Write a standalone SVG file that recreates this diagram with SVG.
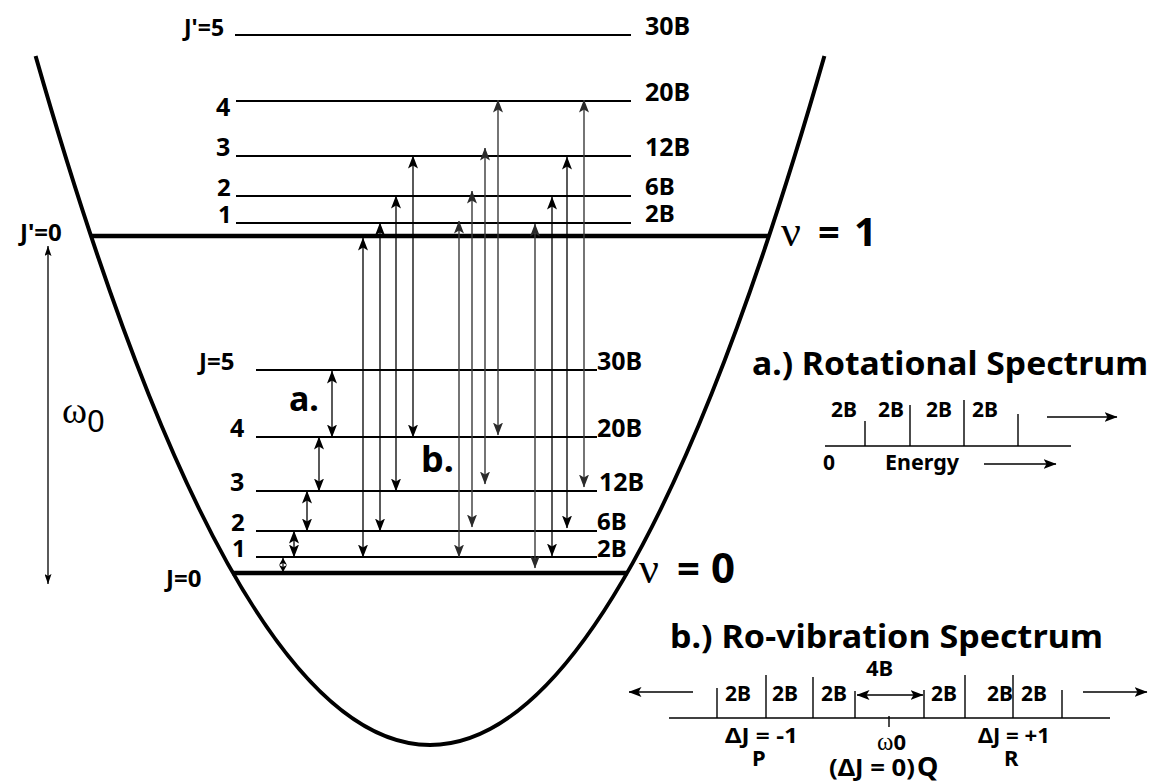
<svg xmlns="http://www.w3.org/2000/svg" width="1157" height="784" viewBox="0 0 1157 784">
<style>
.lv{stroke:#000;stroke-width:2;fill:none}
.thick{stroke:#000;stroke-width:4.5;fill:none}
.ar{stroke:#000;stroke-width:1.3;fill:none;marker-start:url(#ah);marker-end:url(#ah)}
.arg{stroke:#3a3a3a;stroke-width:1.4;fill:none;marker-start:url(#ahg);marker-end:url(#ahg)}
.ars{stroke:#000;stroke-width:1.2;fill:none;marker-start:url(#ahs);marker-end:url(#ahs)}
.arw{stroke:#000;stroke-width:1.3;fill:none;marker-start:url(#aht);marker-end:url(#aht)}
.ar1{stroke:#000;stroke-width:1.3;fill:none;marker-end:url(#ah)}
.ar2{stroke:#000;stroke-width:1.3;fill:none;marker-start:url(#ah);marker-end:url(#ah)}
.tk{stroke:#000;stroke-width:1.4;fill:none}
.b{font-family:"Noto Sans","DejaVu Sans",sans-serif;font-weight:bold;fill:#000}
.s{font-family:"Liberation Serif","DejaVu Serif",serif;font-weight:normal;fill:#000}
.r{font-family:"Noto Sans","DejaVu Sans",sans-serif;font-weight:normal;fill:#000}
</style>
<defs>
<marker id="ah" viewBox="0 0 13 10" refX="12.5" refY="5" markerWidth="13" markerHeight="10" orient="auto-start-reverse" markerUnits="userSpaceOnUse"><path d="M0,0 L13,5 L0,10 L3,5 Z" fill="#000"/></marker>
<marker id="ahg" viewBox="0 0 13 10" refX="12.5" refY="5" markerWidth="13" markerHeight="10" orient="auto-start-reverse" markerUnits="userSpaceOnUse"><path d="M0,0 L13,5 L0,10 L3,5 Z" fill="#2a2a2a"/></marker>
<marker id="ahs" viewBox="0 0 7 8" refX="7" refY="4" markerWidth="7" markerHeight="8" orient="auto-start-reverse" markerUnits="userSpaceOnUse"><path d="M0,0 L7,4 L0,8 L2,4 Z" fill="#000"/></marker>
<marker id="aht" viewBox="0 0 10 7" refX="10" refY="3.5" markerWidth="10" markerHeight="7" orient="auto-start-reverse" markerUnits="userSpaceOnUse"><path d="M0,0 L10,3.5 L0,7 L2,3.5 Z" fill="#000"/></marker>
</defs>
<rect width="1157" height="784" fill="#fff"/>

<g id="potential">
<path d="M35.6,56 Q430,1434 824.4,56" fill="none" stroke="#000" stroke-width="4"/>
</g>

<g id="upper-levels">
<g id="Jp5"><line class="lv" x1="235" y1="35" x2="631" y2="35"/><text class="b" x="184" y="36" font-size="23">J'=5</text><text class="b" x="645" y="35" font-size="25">30B</text></g>
<g id="Jp4"><line class="lv" x1="236" y1="101" x2="631" y2="101"/><text class="b" x="216" y="116" font-size="25">4</text><text class="b" x="645" y="101" font-size="25">20B</text></g>
<g id="Jp3"><line class="lv" x1="236" y1="156" x2="631" y2="156"/><text class="b" x="216" y="156" font-size="25">3</text><text class="b" x="645" y="156" font-size="25">12B</text></g>
<g id="Jp2"><line class="lv" x1="236" y1="196" x2="631" y2="196"/><text class="b" x="217" y="196" font-size="24">2</text><text class="b" x="645" y="195" font-size="24">6B</text></g>
<g id="Jp1"><line class="lv" x1="236" y1="223" x2="631" y2="223"/><text class="b" x="218" y="223" font-size="24">1</text><text class="b" x="645" y="222" font-size="24">2B</text></g>
<g id="Jp0"><line class="thick" x1="91" y1="236" x2="769" y2="236"/><text class="b" x="20" y="241" font-size="24">J'=0</text>
<text x="781" y="246"><tspan class="s" font-size="44">ν</tspan><tspan class="b" x="818" font-size="38">=</tspan><tspan class="b" x="854" font-size="40">1</tspan></text></g>
</g>

<g id="lower-levels">
<g id="J5"><line class="lv" x1="256" y1="370" x2="597" y2="370"/><text class="b" x="199" y="370" font-size="24">J=5</text><text class="b" x="597" y="370" font-size="25">30B</text></g>
<g id="J4"><line class="lv" x1="256" y1="437" x2="597" y2="437"/><text class="b" x="230" y="437" font-size="25">4</text><text class="b" x="597" y="437" font-size="25">20B</text></g>
<g id="J3"><line class="lv" x1="256" y1="491" x2="597" y2="491"/><text class="b" x="230" y="491" font-size="25">3</text><text class="b" x="599" y="491" font-size="25">12B</text></g>
<g id="J2"><line class="lv" x1="256" y1="531" x2="597" y2="531"/><text class="b" x="231" y="531" font-size="24">2</text><text class="b" x="597" y="530" font-size="24">6B</text></g>
<g id="J1"><line class="lv" x1="256" y1="557" x2="597" y2="557"/><text class="b" x="232" y="557" font-size="24">1</text><text class="b" x="597" y="557" font-size="24">2B</text></g>
<g id="J0"><line class="thick" x1="232" y1="573" x2="628" y2="573"/><text class="b" x="166" y="587" font-size="24">J=0</text>
<text x="639" y="583"><tspan class="s" font-size="44">ν</tspan><tspan class="b" x="677" font-size="40">=</tspan><tspan class="b" x="711" font-size="42">0</tspan></text></g>
</g>

<g id="connectors">
<path class="arw" d="M48,246 V584"/>
<path class="ar" d="M332,371 V437"/>
<path class="ar" d="M319,437 V491"/>
<path class="ar" d="M307,491 V531"/>
<path class="ar" d="M294,531 V557"/>
<path class="ars" d="M283,558 V572"/>
<path class="ar" d="M363,557 V238"/>
<path class="ar" d="M380,531 V223"/>
<path class="ar" d="M396,491 V196"/>
<path class="ar" d="M413,437 V156"/>
<path class="arg" d="M459,557 V221"/>
<path class="arg" d="M472,527 V191"/>
<path class="arg" d="M485,484 V148"/>
<path class="arg" d="M498,435 V100"/>
<path class="arg" d="M535,568 V224"/>
<path class="ar" d="M552,556 V197"/>
<path class="ar" d="M567,528 V157"/>
<path class="arg" d="M584,487 V100"/>
</g>

<g id="labels">
<text class="b" x="289" y="411" font-size="34">a.</text>
<text class="b" x="421" y="472" font-size="36">b.</text>
<text x="62" y="423"><tspan class="s" font-size="38">ω</tspan><tspan class="r" font-size="31" y="432">0</tspan></text>
</g>

<g id="rotational-spectrum">
<text class="b" x="752" y="375" font-size="32" textLength="396" lengthAdjust="spacingAndGlyphs">a.) Rotational Spectrum</text>
<line class="tk" x1="825" y1="446" x2="1071" y2="446"/>
<line class="tk" x1="865" y1="421" x2="865" y2="446"/>
<line class="tk" x1="910" y1="405" x2="910" y2="446"/>
<line class="tk" x1="964" y1="400" x2="964" y2="446"/>
<line class="tk" x1="1018" y1="414" x2="1018" y2="446"/>
<text class="b" x="831" y="417" font-size="21">2B</text>
<text class="b" x="878" y="417" font-size="21">2B</text>
<text class="b" x="926" y="417" font-size="21">2B</text>
<text class="b" x="972" y="417" font-size="21">2B</text>
<path class="ar1" d="M1047,417 H1117"/>
<text class="b" x="823" y="470" font-size="21">0</text>
<text class="b" x="885" y="470" font-size="21" textLength="74" lengthAdjust="spacingAndGlyphs">Energy</text>
<path class="ar1" d="M984,464 H1056"/>
</g>

<g id="rovibration-spectrum">
<text class="b" x="670" y="648" font-size="32" textLength="433" lengthAdjust="spacingAndGlyphs">b.) Ro-vibration Spectrum</text>
<line class="tk" x1="669" y1="718" x2="1110" y2="718"/>
<line class="tk" x1="717" y1="688" x2="717" y2="718"/>
<line class="tk" x1="766" y1="675" x2="766" y2="718"/>
<line class="tk" x1="813" y1="677" x2="813" y2="718"/>
<line class="tk" x1="855" y1="691" x2="855" y2="718"/>
<line class="tk" x1="924" y1="690" x2="924" y2="718"/>
<line class="tk" x1="965" y1="675" x2="965" y2="718"/>
<line class="tk" x1="1013" y1="675" x2="1013" y2="718"/>
<line class="tk" x1="1062" y1="690" x2="1062" y2="718"/>
<line class="tk" x1="889" y1="716" x2="889" y2="727"/>
<text class="b" x="725" y="701" font-size="21">2B</text>
<text class="b" x="772" y="701" font-size="21">2B</text>
<text class="b" x="821" y="701" font-size="21">2B</text>
<text class="b" x="931" y="701" font-size="21">2B</text>
<text class="b" x="987" y="701" font-size="21">2B</text>
<text class="b" x="1021" y="701" font-size="21">2B</text>
<text class="b" x="866" y="676" font-size="22">4B</text>
<path class="ar2" d="M857,695 H923"/>
<path class="ar1" d="M693,692 H629"/>
<path class="ar1" d="M1083,692 H1147"/>
<text class="b" x="725" y="743" font-size="22" textLength="73" lengthAdjust="spacingAndGlyphs">ΔJ = -1</text>
<text class="b" x="752" y="766" font-size="22">P</text>
<text x="877" y="750"><tspan class="s" font-size="25">ω</tspan><tspan class="b" font-size="22">0</tspan></text>
<text x="829" y="776"><tspan class="b" font-size="23" textLength="86" lengthAdjust="spacingAndGlyphs">(ΔJ = 0)</tspan><tspan class="b" x="917" font-size="27">Q</tspan></text>
<text class="b" x="978" y="743" font-size="22" textLength="72" lengthAdjust="spacingAndGlyphs">ΔJ = +1</text>
<text class="b" x="1004" y="766" font-size="22">R</text>
</g>
</svg>
